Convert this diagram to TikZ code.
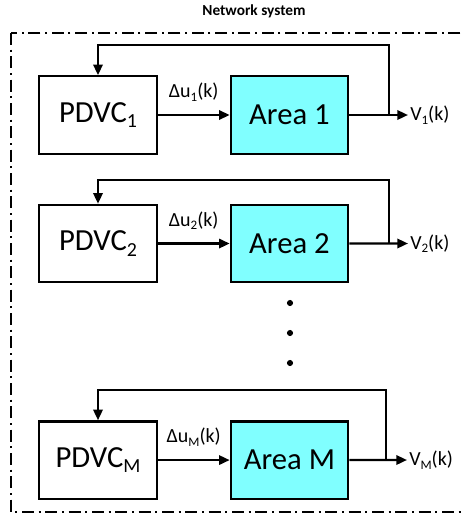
\documentclass[tikz,border=0pt]{standalone}
\usepackage{fontspec}
\setmainfont{Carlito}
\usepackage{xcolor}
\usetikzlibrary{positioning, arrows.meta}
\definecolor{areacyan}{RGB}{128,255,255}
\newcommand{\lowsub}[1]{\raisebox{-0.17em}{\scalebox{0.65}{#1}}}

\begin{document}
\begin{tikzpicture}[x=0.75pt, y=-0.75pt, node distance=143.6pt, on grid,
    >={Triangle[length=8pt, width=7pt]},
    block/.style={draw, line width=1.7pt, minimum width=88pt, minimum height=58pt,
      inner sep=0pt, font=\fontsize{23}{26}\selectfont},
    area/.style={block, fill=areacyan},
    sig/.style={font=\fontsize{15}{18}\selectfont, inner sep=1.5pt},
    line/.style={line width=1.7pt},
    frame/.style={line width=1.1pt, dash pattern=on 9pt off 3.5pt on 1.5pt off 3.5pt}]
    \useasboundingbox (0,0) rectangle (461,532);

    % Frame
    \node[font=\bfseries\fontsize{11.5}{13}\selectfont] (title) at (254,11) {Network system};
    \draw[frame] (11,33) rectangle (480,512);

    % Blocks
    \node[block]                   (p1) at (98,115) {PDVC\lowsub{1}};
    \node[area, right=of p1]       (a1) {Area 1};
    \node[block, below=96.4pt of p1] (p2) {PDVC\lowsub{2}};
    \node[area, right=of p2]       (a2) {Area 2};
    \node[block, below=162.4pt of p2] (pM) {PDVC\lowsub{M}};
    \node[area, right=of pM]       (aM) {Area M};

    % Outputs
    \node[sig, anchor=west] (v1) at (408,115)   {V\lowsub{1}(k)};
    \node[sig, anchor=west] (v2) at (408,243.5) {V\lowsub{2}(k)};
    \node[sig, anchor=west] (vM) at (407,460)   {V\lowsub{M}(k)};
    \coordinate (f1) at (389,115);   \coordinate (t1) at (389,45);
    \coordinate (f2) at (389,243.5); \coordinate (t2) at (389,180);
    \coordinate (fM) at (386,460);   \coordinate (tM) at (386,390);

    % Signals
    \draw[line, ->] (p1) -- node[sig, above=8pt] (d1) {Δu\lowsub{1}(k)} (a1);
    \draw[line, ->] (p2) -- node[sig, above=8pt] (d2) {Δu\lowsub{2}(k)} (a2);
    \draw[line, ->] (pM) -- node[sig, above=8pt] (dM) {Δu\lowsub{M}(k)} (aM);
    \draw[line, ->] (a1) -- (v1.west);
    \draw[line, ->] (a2) -- (v2.west);
    \draw[line, ->] (aM) -- (vM.west);

    % Feedback
    \draw[line, ->] (f1) -- (t1) -| (p1);
    \draw[line, ->] (f2) -- (t2) -| (p2);
    \draw[line, ->] (fM) -- (tM) -| (pM);

    % Dots
    \foreach \y in {303, 333, 363}
      \fill (290,\y) circle (2.3pt);
\end{tikzpicture}
\end{document}
